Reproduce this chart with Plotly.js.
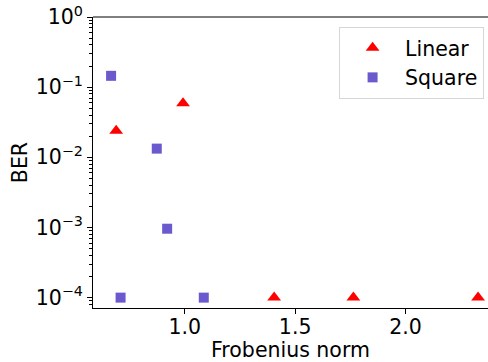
<!DOCTYPE html>
<html>
<head>
<meta charset="utf-8">
<script src="https://cdn.plot.ly/plotly-3.0.1.min.js"></script>
<style>html,body{margin:0;padding:0;background:#fff}</style>
</head>
<body>
<div id="chart" style="width:488px;height:362px"></div>
<script>
// Data
const linearX = [0.689, 0.992, 1.405, 1.764, 2.329];
const linearY = [0.0239, 0.059, 1e-4, 1e-4, 1e-4];
const squareX = [0.666, 0.873, 0.920, 0.709, 1.086];
const squareY = [0.145, 0.0133, 0.00096, 1e-4, 1e-4];
const yTickVals = [1e-4, 1e-3, 1e-2, 1e-1, 1];
const yTickText = ['10<sup>−4</sup>', '10<sup>−3</sup>', '10<sup>−2</sup>', '10<sup>−1</sup>', '10<sup>0</sup>'];
const xTickVals = [1.0, 1.5, 2.0];
const xTickText = ['1.0', '1.5', '2.0'];

const minorVals = [];
for (let e = -5; e < 0; e++) {
  for (let m = 2; m <= 9; m++) minorVals.push(m * Math.pow(10, e));
}

const font = {family: 'DejaVu Sans', size: 20.5, color: '#000'};

const traces = [
  {x: linearX, y: linearY, name: 'Linear', mode: 'markers', type: 'scatter',
   marker: {symbol: 'triangle-up', size: 12, color: '#ff0000', line: {width: 0}}},
  {x: squareX, y: squareY, name: 'Square', mode: 'markers', type: 'scatter',
   marker: {symbol: 'square', size: 10, color: '#6a5acd', line: {width: 0}}}
];

const layout = {
  width: 488, height: 362,
  margin: {l: 93, r: 0, t: 17, b: 54},
  paper_bgcolor: '#fff', plot_bgcolor: '#fff',
  font: font,
  showlegend: true,
  xaxis: {
    range: [0.584, 2.374], showgrid: false, zeroline: false,
    showline: true, linecolor: '#000', linewidth: 1,
    ticks: 'outside', ticklen: 5, tickcolor: '#000', tickwidth: 1,
    ticklabelstandoff: -5,
    tickvals: xTickVals, ticktext: xTickText, tickfont: font,
    title: {text: 'Frobenius norm', font: font, standoff: 4}
  },
  yaxis: {
    type: 'log', range: [-4.148, 0], showgrid: false, zeroline: false,
    showline: true, linecolor: '#000', linewidth: 1,
    ticks: 'outside', ticklen: 5, tickcolor: '#000', tickwidth: 1,
    tickvals: yTickVals, ticktext: yTickText, tickfont: font,
    minor: {tickvals: minorVals, ticks: 'outside', ticklen: 3, tickcolor: '#000', tickwidth: 1, showgrid: false},
    title: {text: 'BER', font: font, standoff: 2}
  },
  shapes: [
    {type: 'line', xref: 'paper', yref: 'paper', x0: 0, x1: 1, y0: 1, y1: 1,
     line: {color: '#000', width: 1}}
  ],
  legend: {
    x: 0.623, y: 0.966, xanchor: 'left', yanchor: 'top',
    bgcolor: '#fff', bordercolor: '#d6d6d6', borderwidth: 1,
    font: font, itemwidth: 55
  }
};

Plotly.newPlot('chart', traces, layout, {displayModeBar: false, staticPlot: true});
</script>
</body>
</html>
